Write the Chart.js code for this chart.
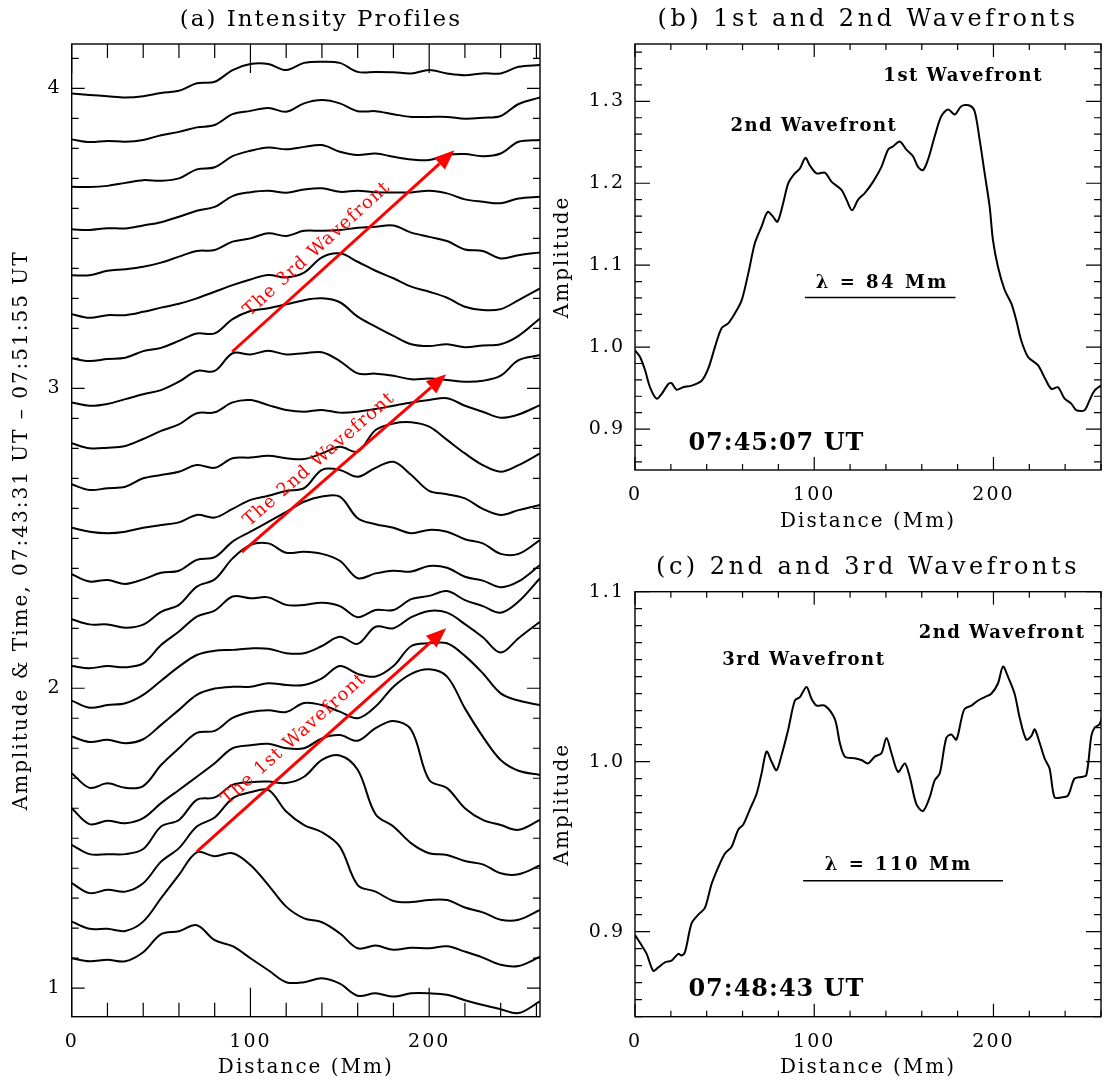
<!DOCTYPE html>
<html>
<head>
<meta charset="utf-8">
<script src="https://cdn.jsdelivr.net/npm/chart.js@4/dist/chart.umd.min.js"></script>
<style>
  body { margin: 0; background: #fff; width: 1104px; height: 1086px; position: relative; overflow: hidden; }
  .box { position: absolute; }
</style>
</head>
<body>
<div class="box" style="left:0;top:0;width:545px;height:1086px"><canvas id="profiles"></canvas></div>
<div class="box" style="left:545px;top:0;width:559px;height:540px"><canvas id="front12"></canvas></div>
<div class="box" style="left:545px;top:540px;width:559px;height:546px"><canvas id="front23"></canvas></div>
<script>
// distance grid of panel (a), Mm
const distA = [0, 10, 20, 30, 40, 50, 60, 70, 80, 90, 100, 110, 120, 130, 140, 150, 160, 170, 180, 190, 200, 210, 220, 230, 240, 250, 262];

// stacked intensity profiles, bottom (07:43:31) to top (07:51:55)
const prof01 = [1.10, 1.09, 1.095, 1.09, 1.12, 1.18, 1.19, 1.21, 1.16, 1.14, 1.10, 1.06, 1.02, 1.02, 1.033, 1.015, 0.975, 0.983, 0.972, 0.983, 0.983, 0.978, 0.96, 0.944, 0.93, 0.917, 0.956];
const prof02 = [1.222, 1.198, 1.198, 1.191, 1.222, 1.30, 1.378, 1.453, 1.44, 1.45, 1.411, 1.344, 1.272, 1.233, 1.22, 1.183, 1.133, 1.142, 1.128, 1.135, 1.133, 1.14, 1.122, 1.102, 1.078, 1.074, 1.105];
const prof03 = [1.35, 1.317, 1.328, 1.322, 1.35, 1.422, 1.467, 1.539, 1.569, 1.633, 1.653, 1.661, 1.589, 1.544, 1.52, 1.472, 1.344, 1.322, 1.291, 1.287, 1.294, 1.294, 1.269, 1.253, 1.228, 1.228, 1.261];
const prof04 = [1.478, 1.447, 1.447, 1.447, 1.464, 1.539, 1.561, 1.628, 1.636, 1.678, 1.687, 1.689, 1.684, 1.705, 1.761, 1.776, 1.728, 1.58, 1.539, 1.483, 1.45, 1.444, 1.424, 1.413, 1.383, 1.38, 1.409];
const prof05 = [1.60, 1.547, 1.558, 1.55, 1.567, 1.617, 1.661, 1.705, 1.75, 1.80, 1.81, 1.815, 1.80, 1.80, 1.833, 1.844, 1.825, 1.867, 1.891, 1.861, 1.694, 1.667, 1.60, 1.561, 1.544, 1.528, 1.561];
const prof06 = [1.717, 1.668, 1.683, 1.668, 1.674, 1.744, 1.80, 1.851, 1.858, 1.901, 1.921, 1.927, 1.921, 1.951, 1.944, 1.922, 1.90, 1.939, 2.005, 2.048, 2.063, 2.039, 1.933, 1.839, 1.761, 1.725, 1.711];
const prof07 = [1.839, 1.821, 1.828, 1.817, 1.83, 1.878, 1.928, 1.978, 1.999, 2.005, 2.005, 2.017, 2.011, 2.011, 2.033, 2.074, 2.048, 2.039, 2.074, 2.141, 2.15, 2.15, 2.108, 2.05, 1.983, 1.959, 1.944];
const prof08 = [1.959, 1.935, 1.944, 1.95, 1.978, 2.025, 2.072, 2.111, 2.125, 2.128, 2.133, 2.132, 2.117, 2.117, 2.141, 2.172, 2.148, 2.205, 2.2, 2.237, 2.258, 2.252, 2.214, 2.17, 2.119, 2.167, 2.222];
const prof09 = [2.074, 2.067, 2.074, 2.07, 2.083, 2.144, 2.189, 2.239, 2.259, 2.306, 2.30, 2.303, 2.278, 2.278, 2.285, 2.274, 2.237, 2.261, 2.261, 2.297, 2.308, 2.324, 2.294, 2.274, 2.252, 2.289, 2.367];
const prof10 = [2.23, 2.213, 2.213, 2.202, 2.212, 2.255, 2.278, 2.339, 2.363, 2.433, 2.478, 2.483, 2.452, 2.455, 2.448, 2.425, 2.367, 2.383, 2.392, 2.389, 2.408, 2.402, 2.372, 2.359, 2.337, 2.356, 2.411];
const prof11 = [2.38, 2.356, 2.361, 2.348, 2.363, 2.385, 2.392, 2.428, 2.437, 2.489, 2.522, 2.555, 2.588, 2.622, 2.639, 2.639, 2.567, 2.547, 2.535, 2.517, 2.528, 2.522, 2.497, 2.483, 2.448, 2.448, 2.494];
const prof12 = [2.535, 2.522, 2.517, 2.522, 2.535, 2.544, 2.553, 2.578, 2.569, 2.598, 2.628, 2.642, 2.658, 2.667, 2.728, 2.728, 2.705, 2.735, 2.755, 2.711, 2.658, 2.647, 2.633, 2.598, 2.578, 2.594, 2.611];
const prof13 = [2.68, 2.661, 2.667, 2.672, 2.70, 2.711, 2.722, 2.744, 2.735, 2.767, 2.769, 2.775, 2.767, 2.764, 2.783, 2.805, 2.789, 2.861, 2.883, 2.887, 2.872, 2.828, 2.783, 2.744, 2.722, 2.744, 2.783];
const prof14 = [2.817, 2.80, 2.802, 2.808, 2.831, 2.858, 2.88, 2.917, 2.92, 2.953, 2.961, 2.944, 2.928, 2.922, 2.928, 2.919, 2.922, 2.931, 2.942, 2.953, 2.961, 2.967, 2.942, 2.922, 2.902, 2.913, 2.944];
const prof15 = [2.953, 2.942, 2.948, 2.964, 2.98, 2.994, 3.022, 3.058, 3.058, 3.117, 3.113, 3.125, 3.113, 3.117, 3.12, 3.091, 3.05, 3.049, 3.042, 3.03, 3.033, 3.028, 3.022, 3.025, 3.042, 3.094, 3.111];
const prof16 = [3.10, 3.091, 3.098, 3.102, 3.124, 3.135, 3.158, 3.183, 3.183, 3.231, 3.258, 3.267, 3.28, 3.294, 3.30, 3.287, 3.239, 3.206, 3.175, 3.147, 3.141, 3.147, 3.137, 3.143, 3.147, 3.175, 3.233];
const prof17 = [3.247, 3.235, 3.244, 3.244, 3.255, 3.269, 3.282, 3.30, 3.322, 3.344, 3.363, 3.378, 3.37, 3.386, 3.437, 3.45, 3.422, 3.392, 3.367, 3.339, 3.322, 3.302, 3.272, 3.261, 3.264, 3.294, 3.333];
const prof18 = [3.377, 3.377, 3.392, 3.397, 3.405, 3.419, 3.439, 3.458, 3.461, 3.489, 3.50, 3.517, 3.508, 3.525, 3.525, 3.528, 3.535, 3.539, 3.543, 3.519, 3.505, 3.491, 3.463, 3.458, 3.433, 3.444, 3.453];
const prof19 = [3.53, 3.528, 3.534, 3.533, 3.543, 3.554, 3.572, 3.592, 3.605, 3.641, 3.654, 3.659, 3.652, 3.663, 3.667, 3.655, 3.659, 3.654, 3.653, 3.653, 3.659, 3.65, 3.63, 3.622, 3.617, 3.633, 3.639];
const prof20 = [3.672, 3.671, 3.675, 3.685, 3.694, 3.692, 3.70, 3.73, 3.737, 3.774, 3.792, 3.803, 3.797, 3.805, 3.811, 3.789, 3.778, 3.783, 3.772, 3.763, 3.761, 3.778, 3.781, 3.774, 3.783, 3.822, 3.828];
const prof21 = [3.83, 3.821, 3.825, 3.822, 3.828, 3.844, 3.855, 3.87, 3.878, 3.914, 3.925, 3.935, 3.922, 3.95, 3.961, 3.95, 3.924, 3.924, 3.914, 3.905, 3.905, 3.905, 3.899, 3.902, 3.908, 3.948, 3.97];
const prof22 = [3.983, 3.978, 3.974, 3.97, 3.974, 3.985, 3.992, 4.017, 4.022, 4.061, 4.081, 4.081, 4.061, 4.085, 4.089, 4.085, 4.055, 4.055, 4.054, 4.05, 4.061, 4.05, 4.044, 4.05, 4.05, 4.072, 4.078];
const profiles = [prof01, prof02, prof03, prof04, prof05, prof06, prof07, prof08, prof09, prof10, prof11,
  prof12, prof13, prof14, prof15, prof16, prof17, prof18, prof19, prof20, prof21, prof22];

// panel (b), 07:45:07 UT
const distB = [0, 2.8, 5.6, 8.4, 12.1, 14.9, 18.6, 20.4, 23.2, 26.9, 31.6, 37.2, 40.9, 44.6, 48.3, 52, 55.7, 59.5, 63.2, 66.9,
  70.6, 74, 77.1, 79.5, 82.7, 85.5, 89.2, 92, 95.1, 97.5, 101.3, 105.9, 109.6, 115.2, 118, 121.1, 124.5, 128.2, 132.9, 137.5,
  141.2, 144, 147.7, 151.4, 155.1, 157.9, 160.7, 163.5, 167.2, 170.9, 174.7, 178.4, 182.1, 186.7, 189.5, 192.3, 195.1, 197.9, 199.7, 202.5,
  206.2, 210, 212.7, 215.5, 219.3, 224.8, 228.5, 232.3, 236, 239.7, 243.4, 246.2, 250.8, 253.6, 256.4, 261.4];
const ampB = [0.996, 0.988, 0.972, 0.951, 0.937, 0.943, 0.955, 0.956, 0.948, 0.951, 0.953, 0.959, 0.974, 1.0, 1.023, 1.029, 1.041, 1.057, 1.09, 1.127,
  1.147, 1.165, 1.159, 1.153, 1.176, 1.2, 1.212, 1.218, 1.231, 1.222, 1.212, 1.213, 1.202, 1.192, 1.18, 1.167, 1.18, 1.188, 1.202, 1.22,
  1.241, 1.245, 1.251, 1.241, 1.233, 1.22, 1.216, 1.229, 1.257, 1.282, 1.29, 1.284, 1.294, 1.295, 1.288, 1.253, 1.212, 1.171, 1.131, 1.098,
  1.07, 1.053, 1.033, 1.008, 0.988, 0.978, 0.963, 0.949, 0.951, 0.937, 0.931, 0.923, 0.923, 0.935, 0.947, 0.955];

// panel (c), 07:48:43 UT
const distC = [0, 3.7, 6.5, 10.2, 13, 16.7, 20.4, 24.2, 26, 27.9, 31.6, 35.3, 39, 42.7, 46.5, 50.2, 53.9, 57.6, 60.4, 64.1,
  67.8, 70.6, 73.4, 76.2, 79, 81.8, 85.5, 89.2, 92, 95.7, 98.5, 101.3, 105.9, 111.5, 114.3, 117.1, 122.6, 126.3, 130.1, 133.8,
  137.5, 140.3, 143.1, 146.8, 150.5, 153.3, 157, 160.7, 164.4, 167.2, 170, 173.7, 176.5, 179.3, 182.1, 183.9, 187.7, 191.4, 195.1, 198.8,
  202.5, 205.3, 208.1, 211.8, 214.6, 218.3, 221.1, 223, 225.8, 228.5, 231.3, 234.1, 237.8, 241.5, 245.2, 248.9, 251.8, 254.6, 256.4, 259.2, 261.4];
const ampC = [0.898, 0.892, 0.887, 0.877, 0.879, 0.882, 0.883, 0.887, 0.886, 0.888, 0.905, 0.91, 0.914, 0.928, 0.938, 0.946, 0.95, 0.96, 0.963, 0.972,
  0.981, 0.993, 1.006, 1.0, 0.995, 1.004, 1.019, 1.036, 1.038, 1.044, 1.037, 1.033, 1.033, 1.025, 1.011, 1.003, 1.002, 1.001, 0.999, 1.003,
  1.005, 1.014, 1.005, 0.994, 0.999, 0.991, 0.975, 0.971, 0.979, 0.989, 0.993, 1.014, 1.016, 1.013, 1.025, 1.031, 1.033, 1.036, 1.038, 1.04,
  1.046, 1.056, 1.05, 1.04, 1.026, 1.013, 1.015, 1.019, 1.011, 1.002, 0.996, 0.979, 0.979, 0.98, 0.99, 0.991, 0.992, 1.015, 1.02, 1.022, 1.03];

// tick labels
const distTicks = [0, 100, 200];
const ticksA = [1, 2, 3, 4];
const ticksB = [0.9, 1.0, 1.1, 1.2, 1.3];
const ticksC = [0.9, 1.0, 1.1];

// wavefront arrows in panel (a): [distance, amplitude] start and tip
const waveArrows = [
  { text: 'The 1st Wavefront', from: [70, 1.455], to: [209.5, 2.2] },
  { text: 'The 2nd Wavefront', from: [95.2, 2.454], to: [209.5, 3.047] },
  { text: 'The 3rd Wavefront', from: [89.8, 3.122], to: [214.1, 3.794] }
];

const SERIF = '"DejaVu Serif", "Liberation Serif", serif';

function stepsIn(min, max, step) {
  const out = [];
  for (let v = Math.ceil(min / step - 1e-6) * step; v <= max + 1e-6; v += step) out.push(v);
  return out;
}

// IDL-like box: inward ticks on all four sides, plus titles and notes
const panelPlugin = {
  id: 'panel',
  beforeDraw(chart) {
    chart.ctx.letterSpacing = '2px';
  },
  afterDraw(chart, args, o) {
    const { ctx, chartArea: a, scales: { x, y } } = chart;
    ctx.save();
    ctx.strokeStyle = '#000';
    ctx.lineWidth = 1.4;
    ctx.strokeRect(a.left, a.top, a.right - a.left, a.bottom - a.top);

    ctx.lineWidth = 1.2;
    ctx.beginPath();
    const tickX = (v, len) => {
      const p = x.getPixelForValue(v);
      ctx.moveTo(p, a.bottom); ctx.lineTo(p, a.bottom - len);
      ctx.moveTo(p, a.top); ctx.lineTo(p, a.top + len);
    };
    const tickY = (v, len) => {
      const p = y.getPixelForValue(v);
      ctx.moveTo(a.left, p); ctx.lineTo(a.left + len, p);
      ctx.moveTo(a.right, p); ctx.lineTo(a.right - len, p);
    };
    stepsIn(x.min, x.max, o.xMinor).forEach(v => tickX(v, o.xLen[1]));
    stepsIn(x.min, x.max, 100).forEach(v => tickX(v, o.xLen[0]));
    stepsIn(y.min, y.max, o.yMinor).forEach(v => tickY(v, o.yLen[1]));
    stepsIn(y.min, y.max, o.yMajor).forEach(v => tickY(v, o.yLen[0]));
    ctx.stroke();

    ctx.fillStyle = '#000';
    ctx.textAlign = 'center';
    ctx.textBaseline = 'middle';
    ctx.font = o.titleFont;
    ctx.letterSpacing = o.titleSpacing;
    ctx.fillText(o.title, (a.left + a.right) / 2 + o.titleShift, o.titleY);

    (o.rules || []).forEach(r => {
      ctx.beginPath();
      ctx.lineWidth = 1.5;
      ctx.moveTo(x.getPixelForValue(r.from), y.getPixelForValue(r.at));
      ctx.lineTo(x.getPixelForValue(r.to), y.getPixelForValue(r.at));
      ctx.stroke();
    });

    (o.notes || []).forEach(n => {
      ctx.font = n.font;
      ctx.letterSpacing = n.spacing;
      ctx.fillText(n.text, x.getPixelForValue(n.x), y.getPixelForValue(n.y));
    });

    (o.arrows || []).forEach(ar => {
      const x0 = x.getPixelForValue(ar.from[0]), y0 = y.getPixelForValue(ar.from[1]);
      const x1 = x.getPixelForValue(ar.to[0]), y1 = y.getPixelForValue(ar.to[1]);
      const len = Math.hypot(x1 - x0, y1 - y0);
      const dx = (x1 - x0) / len, dy = (y1 - y0) / len;
      const head = 20, half = 8;
      ctx.strokeStyle = '#ff0000';
      ctx.fillStyle = '#ff0000';
      ctx.lineWidth = 3;
      ctx.beginPath();
      ctx.moveTo(x0, y0);
      ctx.lineTo(x1 - dx * head, y1 - dy * head);
      ctx.stroke();
      ctx.beginPath();
      ctx.moveTo(x1, y1);
      ctx.lineTo(x1 - dx * head - dy * half, y1 - dy * head + dx * half);
      ctx.lineTo(x1 - dx * head + dy * half, y1 - dy * head - dx * half);
      ctx.closePath();
      ctx.fill();
      // label parallel to the arrow, on its upper-left side
      const cx = x0 + dx * len * 0.44 + dy * 19, cy = y0 + dy * len * 0.44 - dx * 19;
      ctx.save();
      ctx.translate(cx, cy);
      ctx.rotate(Math.atan2(dy, dx));
      ctx.font = '18px ' + SERIF;
      ctx.letterSpacing = '1.2px';
      ctx.fillText(ar.text, 0, 0);
      ctx.restore();
    });
    ctx.restore();
  }
};

function xAxis(max, height) {
  return {
    type: 'linear', min: 0, max: max,
    grid: { display: false, drawTicks: false },
    border: { display: false },
    afterBuildTicks: s => { s.ticks = distTicks.map(v => ({ value: v })); },
    afterFit: s => { s.height = height; },
    ticks: { padding: 14, color: '#000', maxRotation: 0, font: { family: SERIF, size: 19 } },
    title: { display: true, text: 'Distance (Mm)', color: '#000', font: { family: SERIF, size: 20 }, padding: { top: 0, bottom: 6 } }
  };
}

function yAxis(min, max, ticks, width, text, titlePad, digits) {
  return {
    type: 'linear', min: min, max: max,
    grid: { display: false, drawTicks: false },
    border: { display: false },
    afterBuildTicks: s => { s.ticks = ticks.map(v => ({ value: v })); },
    afterFit: s => { s.width = width; },
    ticks: { padding: 10, color: '#000', font: { family: SERIF, size: 19 }, callback: v => v.toFixed(digits) },
    title: { display: true, text: text, color: '#000', font: { family: SERIF, size: 20 }, padding: { top: titlePad, bottom: 0 } }
  };
}

const common = {
  animation: false,
  responsive: true,
  maintainAspectRatio: false,
  devicePixelRatio: 1,
  events: []
};

new Chart(document.getElementById('profiles'), {
  type: 'line',
  data: {
    labels: distA,
    datasets: profiles.map(p => ({ data: p, borderColor: '#000', borderWidth: 2, pointRadius: 0, tension: 0.35, fill: false }))
  },
  options: Object.assign({}, common, {
    layout: { padding: { top: 44, right: 5, left: 0, bottom: 0 } },
    plugins: {
      legend: { display: false },
      tooltip: { enabled: false },
      panel: {
        title: '(a) Intensity Profiles', titleY: 20, titleShift: 15,
        titleFont: '23px ' + SERIF, titleSpacing: '2px',
        xMinor: 20, xLen: [29, 14], yMajor: 1, yMinor: 0.1, yLen: [13, 7],
        arrows: waveArrows
      }
    },
    scales: {
      x: xAxis(262, 69.3),
      y: yAxis(0.905, 4.148, ticksA, 71.7, 'Amplitude & Time, 07:43:31 UT \u2013 07:51:55 UT', 10, 0)
    }
  }),
  plugins: [panelPlugin]
});

new Chart(document.getElementById('front12'), {
  type: 'line',
  data: {
    labels: distB,
    datasets: [{ data: ampB, borderColor: '#000', borderWidth: 2, pointRadius: 0, tension: 0.3, fill: false }]
  },
  options: Object.assign({}, common, {
    layout: { padding: { top: 44, right: 3, left: 0, bottom: 0 } },
    plugins: {
      legend: { display: false },
      tooltip: { enabled: false },
      panel: {
        title: '(b) 1st and 2nd Wavefronts', titleY: 20, titleShift: 0,
        titleFont: '24px ' + SERIF, titleSpacing: '3.5px',
        xMinor: 20, xLen: [13, 6], yMajor: 0.1, yMinor: 0.02, yLen: [15, 7],
        rules: [{ from: 94.8, to: 178.8, at: 1.0606 }],
        notes: [
          { text: '1st Wavefront', x: 183.1, y: 1.3306, font: 'bold 18px ' + SERIF, spacing: '1.5px' },
          { text: '2nd Wavefront', x: 99.8, y: 1.2694, font: 'bold 18px ' + SERIF, spacing: '1.5px' },
          { text: '\u03bb = 84 Mm', x: 138, y: 1.0777, font: 'bold 18px ' + SERIF, spacing: '2.5px' },
          { text: '07:45:07 UT', x: 78.9, y: 0.8819, font: 'bold 24px ' + SERIF, spacing: '1px' }
        ]
      }
    },
    scales: {
      x: xAxis(260, 70),
      y: yAxis(0.85, 1.37, ticksB, 90, 'Amplitude', 6, 1)
    }
  }),
  plugins: [panelPlugin]
});

new Chart(document.getElementById('front23'), {
  type: 'line',
  data: {
    labels: distC,
    datasets: [{ data: ampC, borderColor: '#000', borderWidth: 2, pointRadius: 0, tension: 0.3, fill: false }]
  },
  options: Object.assign({}, common, {
    layout: { padding: { top: 51.7, right: 3, left: 0, bottom: 0 } },
    plugins: {
      legend: { display: false },
      tooltip: { enabled: false },
      panel: {
        title: '(c) 2nd and 3rd Wavefronts', titleY: 28, titleShift: 0,
        titleFont: '24px ' + SERIF, titleSpacing: '3.5px',
        xMinor: 20, xLen: [13, 6], yMajor: 0.1, yMinor: 0.01, yLen: [15, 7],
        rules: [{ from: 93.8, to: 205.3, at: 0.930 }],
        notes: [
          { text: '2nd Wavefront', x: 204.8, y: 1.0755, font: 'bold 18px ' + SERIF, spacing: '1.5px' },
          { text: '3rd Wavefront', x: 94.2, y: 1.0598, font: 'bold 18px ' + SERIF, spacing: '1.5px' },
          { text: '\u03bb = 110 Mm', x: 147.2, y: 0.939, font: 'bold 18px ' + SERIF, spacing: '2.5px' },
          { text: '07:48:43 UT', x: 78.9, y: 0.8657, font: 'bold 24px ' + SERIF, spacing: '1px' }
        ]
      }
    },
    scales: {
      x: xAxis(260, 69.3),
      y: yAxis(0.85, 1.1, ticksC, 90, 'Amplitude', 6, 1)
    }
  }),
  plugins: [panelPlugin]
});
</script>
</body>
</html>
